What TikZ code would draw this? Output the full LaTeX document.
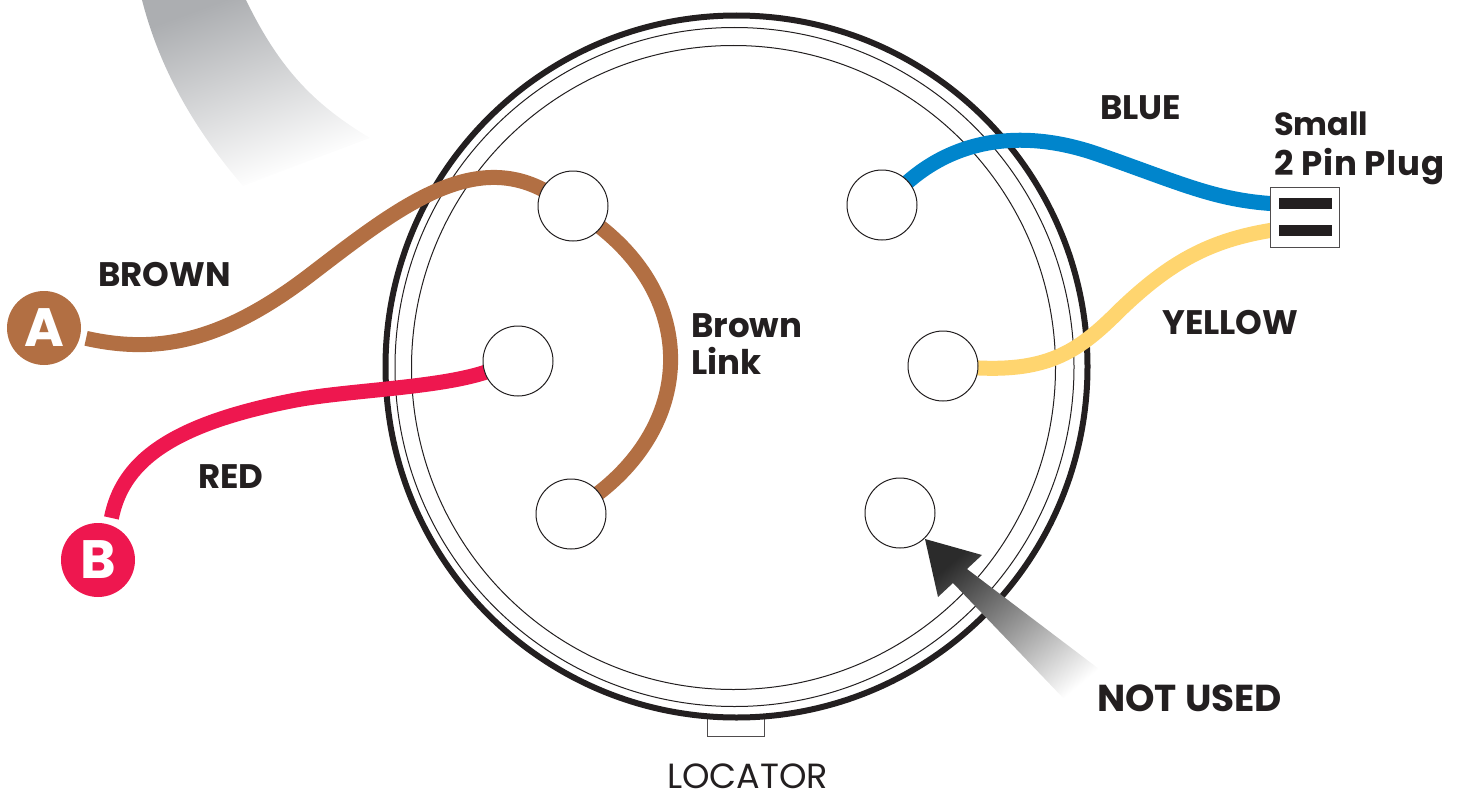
\documentclass[tikz,border=0pt]{standalone}
\usepackage{fontspec}
\setmainfont{Poppins}
\definecolor{wirebrown}{HTML}{B26F43}
\definecolor{wirered}{HTML}{EE174F}
\definecolor{wireblue}{HTML}{0085CC}
\definecolor{wireyellow}{HTML}{FFD56F}
\definecolor{inkblack}{HTML}{231F20}
\definecolor{bandgrey}{HTML}{ACAEB1}
\definecolor{pointerdark}{HTML}{2B2B2B}
\newcommand\LabelSize{\fontsize{34}{40}\selectfont\bfseries}
\pgfdeclarelayer{back}
\pgfdeclarelayer{wires}
\pgfsetlayers{back,wires,main}
\pgfdeclareverticalshading{bandfade}{100bp}{color(0bp)=(white); color(28bp)=(white); color(75bp)=(bandgrey); color(100bp)=(bandgrey)}
\pgfdeclareverticalshading{pointerfade}{100bp}{color(0bp)=(white); color(23bp)=(white); color(75bp)=(pointerdark); color(100bp)=(pointerdark)}

\begin{document}
\begin{tikzpicture}
  [x=1pt,y=-1pt,
   ring/.style = {
     draw=inkblack, circle, inner sep=0pt, outer sep=0pt
   },
   pin/.style = {
     draw=inkblack, fill=white, circle, inner sep=0pt, outer sep=0pt,
     minimum size=70pt, line width=1pt
   },
   wire/.style = {
     line width=15pt, shorten <=-3pt, shorten >=-3pt
   },
   terminal/.style = {
     circle, inner sep=0pt, outer sep=0pt, minimum size=74pt,
     text=white, font=\fontsize{54}{54}\selectfont\bfseries
   },
   bar/.style = {
     fill=inkblack, minimum width=53pt, minimum height=11pt, inner sep=0pt, outer sep=0pt
   },
   label/.style = {
     anchor=base west, inner sep=0pt, text=inkblack, font=\LabelSize
   }]

  \useasboundingbox (0,0) rectangle (1462,792);

  \begin{pgfonlayer}{back}
  % Grey band behind the body.
  \shade[shading=bandfade, shading angle=20]
    (142,0) .. controls (160,70) and (195,130) .. (243,186)
    -- (370,138) .. controls (315,105) and (280,70) .. (246,0) -- cycle;

  % Locator and the three rings.
  \node[draw=inkblack!80, line width=1pt, minimum width=57pt, minimum height=24pt,
        inner sep=0pt, outer sep=0pt] at (735.5,724) (locatortab) {};
  \node[ring, fill=white, line width=6pt, minimum size=702pt] at (736.5,366.5) (rimA) {};
  \node[ring, line width=1pt, minimum size=679pt] at (734.5,367) (rimB) {};
  \node[ring, line width=1pt, minimum size=644pt] at (733.5,367.5) (rimC) {};
  \end{pgfonlayer}

  % Pins.
  \node[pin] at (573,206) (pinA) {};
  \node[pin] at (518,361) (pinB) {};
  \node[pin] at (571,514) (pinC) {};
  \node[pin] at (882,205) (pinD) {};
  \node[pin] at (943,366) (pinE) {};
  \node[pin] at (900,513) (pinF) {};

  % Terminals and plug.
  \node[terminal, fill=wirebrown] at (44,328) (termA) {A};
  \node[terminal, fill=wirered] at (98,560) (termB) {B};
  \coordinate (termAend) at (89,339);
  \coordinate (termBend) at (112,515);

  \node[draw=inkblack!80, fill=white, line width=1pt, minimum width=69pt, minimum height=60pt,
        inner sep=0pt, outer sep=0pt] at (1304.5,217) (plug) {};
  \node[bar] at (1305.5,203.5) (plugtop) {};
  \node[bar] at (1305.5,230.5) (plugbot) {};

  % Draw all wires.
  \begin{pgfonlayer}{wires}
  \draw[wire, wirebrown] (termAend) .. controls (160,355) and (225,340) .. (310,275)
    .. controls (395,210) and (470,150) .. (pinA);
  \draw[wire, wirebrown] (pinA) .. controls (695,300) and (695,420) .. (pinC);
  \draw[wire, wirered] (termBend) .. controls (122,465) and (165,425) .. (296,400)
    .. controls (350,390) and (440,388) .. (pinB);
  \draw[wire, wireblue] (pinD) .. controls (960,135) and (1030,130) .. (1100,155)
    .. controls (1180,183) and (1215,200) .. (plug.west|-plugtop);
  \draw[wire, wireyellow] (pinE) .. controls (1050,372) and (1080,350) .. (1120,310)
    .. controls (1170,262) and (1210,240) .. (plug.west|-plugbot);
  \end{pgfonlayer}

  % Pointer.
  \shade[shading=pointerfade, shading angle=40]
    (925,539) -- (982,555) -- (967,569) -- (1103,672) -- (1067,702) -- (953,583) -- (938,597) -- cycle;

  % Labels.
  \node[label] at (98,286) (brownlabel) {BROWN};
  \node[label] at (198,488) (redlabel) {RED};
  \node[label] at (691,337) (linklabelA) {Brown};
  \node[label] at (691,374) (linklabelB) {Link};
  \node[label] at (1100,119) (bluelabel) {BLUE};
  \node[label, font=\fontsize{32}{40}\selectfont\bfseries] at (1274,135) (pluglabelA) {Small};
  \node[label] at (1274,175) (pluglabelB) {\addfontfeatures{LetterSpace=2}2 Pin Plug};
  \node[label] at (1162,334) (yellowlabel) {YELLOW};
  \node[label, font=\fontsize{37.5}{42}\selectfont\bfseries] at (1097,711) (unusedlabel) {NOT USED};
  \node[label, font=\fontsize{35}{40}\selectfont] at (667,788) (locatorlabel) {LOCATOR};
\end{tikzpicture}
\end{document}
